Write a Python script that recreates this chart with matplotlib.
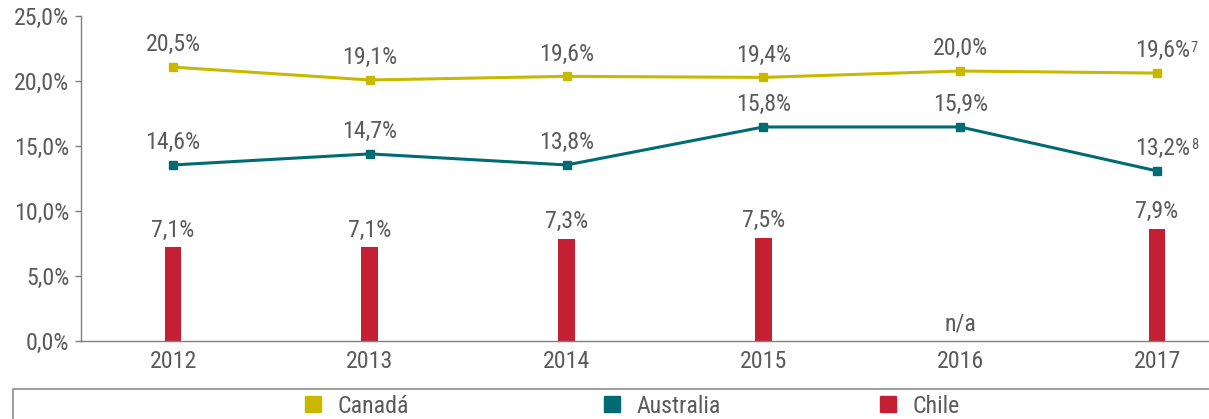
import numpy as np
import matplotlib
matplotlib.use('Agg')
import matplotlib.pyplot as plt
from matplotlib.lines import Line2D
from matplotlib.patches import Rectangle

plt.rcParams['font.family'] = ['Roboto Condensed', 'Archivo Narrow', 'Liberation Sans Narrow',
                               'Liberation Sans', 'DejaVu Sans']

# values as drawn in the picture (the printed labels are kept separately)
years = ['2012', '2013', '2014', '2015', '2016', '2017']
canada = [21.07, 20.08, 20.36, 20.28, 20.77, 20.61]
australia = [13.55, 14.40, 13.55, 16.47, 16.47, 13.09]
chile = [7.21, 7.21, 7.85, 7.93, np.nan, 8.62]

canada_labels = ['20,5%', '19,1%', '19,6%', '19,4%', '20,0%', '19,6%']
australia_labels = ['14,6%', '14,7%', '13,8%', '15,8%', '15,9%', '13,2%']
chile_labels = ['7,1%', '7,1%', '7,3%', '7,5%', 'n/a', '7,9%']
canada_notes = ['', '', '', '', '', '7']
australia_notes = ['', '', '', '', '', '8']

yticks = [0, 5, 10, 15, 20, 25]

c_can = '#C8B900'
c_aus = '#006B73'
c_chi = '#C41F33'
c_txt = '#5A5A5A'
c_axis = '#7F7F7F'
fs = 17.2

fig = plt.figure(figsize=(12.09, 4.19), dpi=100)
ax = fig.add_axes([0.0666, 0.1855, 0.9334, 0.7764])

x = np.arange(len(years))
ax.bar(x, np.nan_to_num(chile), width=0.085, color=c_chi, zorder=2)
ax.plot(x, canada, color=c_can, lw=2.2, marker='s', ms=5.5, zorder=3)
ax.plot(x, australia, color=c_aus, lw=2.2, marker='s', ms=5.5, zorder=3)


def put_labels(vals, labels, notes, dy, dx_last=0):
    for i, (v, lab) in enumerate(zip(vals, labels)):
        if np.isnan(v):
            v = 0
        dx = dx_last if i == len(vals) - 1 and notes[i] else 0
        t = ax.annotate(lab, (i, v), xytext=(dx, dy), textcoords='offset points',
                        ha='center', va='bottom', fontsize=fs, color=c_txt)
        if notes[i]:
            ax.annotate(notes[i], xy=(1.0, 1.0), xycoords=t, xytext=(0.5, -1),
                        textcoords='offset points', ha='left', va='top',
                        fontsize=fs * 0.6, color=c_txt)


put_labels(canada, canada_labels, canada_notes, 7.8, 4)
put_labels(australia, australia_labels, australia_notes, 7.8, 4)
put_labels(chile, chile_labels, ['', '', '', '', '', ''], 4.2)

ax.set_xlim(-0.47, 5.264)
ax.set_ylim(0, 25)
ax.set_yticks(yticks)
ax.set_yticklabels([f'{v:.1f}%'.replace('.', ',') for v in yticks])
ax.set_xticks(x)
ax.set_xticklabels(years)
ax.tick_params(axis='y', length=4, width=1, color=c_axis, labelsize=fs,
               labelcolor=c_txt, pad=4)
ax.tick_params(axis='x', length=0, labelsize=fs, labelcolor=c_txt, pad=6)
for lab in ax.get_yticklabels():
    lab.set_verticalalignment('center_baseline')
for s in ['top', 'right']:
    ax.spines[s].set_visible(False)
for s in ['left', 'bottom']:
    ax.spines[s].set_color(c_axis)
    ax.spines[s].set_linewidth(1.0)

# legend box, cut off by the figure edge
fig.add_artist(Rectangle((13 / 1209, -0.2), 1.2, 0.2 + 30 / 419,
                         transform=fig.transFigure, fill=False,
                         edgecolor='#8C8C8C', lw=1.2, clip_on=False))

for name, col, xpos in [('Canadá', c_can, 305), ('Australia', c_aus, 604),
                        ('Chile', c_chi, 880)]:
    h = Line2D([], [], color=col, marker='s', ms=11.5, ls='none')
    fig.legend(handles=[h], labels=[name], loc='center left',
               bbox_to_anchor=(xpos / 1209, 13 / 419), frameon=False,
               borderpad=0, borderaxespad=0, handlelength=0.7,
               handletextpad=0.65, fontsize=fs, labelcolor=c_txt)

fig.savefig('out.png', dpi=100)
